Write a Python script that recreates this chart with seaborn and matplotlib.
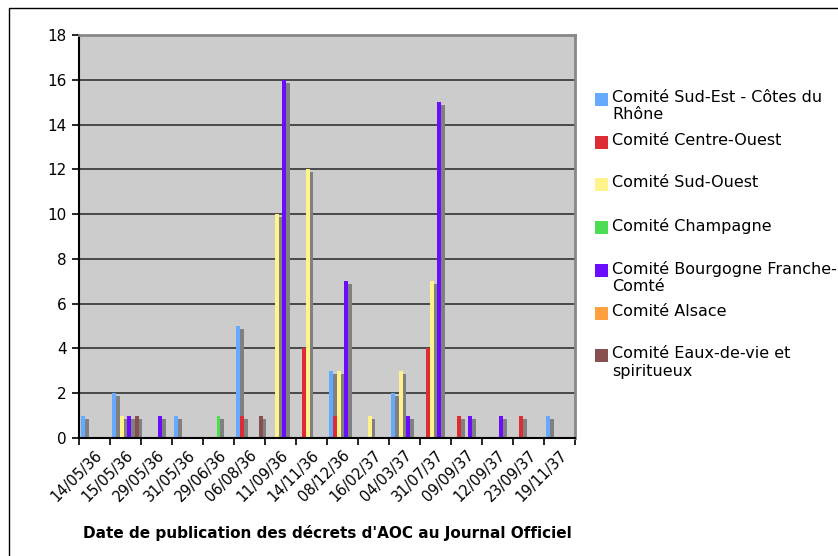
import pandas as pd
import matplotlib
matplotlib.use("Agg")
import matplotlib.pyplot as plt
import seaborn as sns
from matplotlib.patches import Rectangle
from matplotlib.ticker import FixedLocator

# dates de publication (categories de l'axe x)
dates = ["14/05/36", "15/05/36", "29/05/36", "31/05/36", "29/06/36", "06/08/36",
         "11/09/36", "14/11/36", "08/12/36", "16/02/37", "04/03/37", "31/07/37",
         "09/09/37", "12/09/37", "23/09/37", "19/11/37"]

comites = ["Comité Sud-Est - Côtes du Rhône", "Comité Centre-Ouest", "Comité Sud-Ouest",
           "Comité Champagne", "Comité Bourgogne Franche-Comté", "Comité Alsace",
           "Comité Eaux-de-vie et spiritueux"]

# libelles de la legende (avec retour a la ligne)
legende = ["Comité Sud-Est - Côtes du\nRhône", "Comité Centre-Ouest", "Comité Sud-Ouest",
           "Comité Champagne", "Comité Bourgogne Franche-\nComté", "Comité Alsace",
           "Comité Eaux-de-vie et\nspiritueux"]

couleurs = ["#66aaff", "#dd2c34", "#fff38a", "#4ddd55", "#6a0dff", "#ffa040", "#87504f"]

# nombre de decrets par comite
sud_est      = [1, 2, 0, 1, 0, 5, 0, 0, 3, 0, 2, 0, 0, 0, 0, 1]
centre_ouest = [0, 0, 0, 0, 0, 1, 0, 4, 1, 0, 0, 4, 1, 0, 1, 0]
sud_ouest    = [0, 1, 0, 0, 0, 0, 10, 12, 3, 1, 3, 7, 0, 0, 0, 0]
champagne    = [0, 0, 0, 0, 1, 0, 0, 0, 0, 0, 0, 0, 0, 0, 0, 0]
bourgogne    = [0, 1, 1, 0, 0, 0, 16, 0, 7, 0, 1, 15, 1, 1, 0, 0]
alsace       = [0, 0, 0, 0, 0, 0, 0, 0, 0, 0, 0, 0, 0, 0, 0, 0]
eaux_de_vie  = [0, 1, 0, 0, 0, 1, 0, 0, 0, 0, 0, 0, 0, 0, 0, 0]

series = [sud_est, centre_ouest, sud_ouest, champagne, bourgogne, alsace, eaux_de_vie]

# table longue pour seaborn
lignes = []
for nom, valeurs in zip(comites, series):
    for d, v in zip(dates, valeurs):
        lignes.append({"date": d, "comite": nom, "decrets": v})
df = pd.DataFrame(lignes)

sns.set_style("white")
plt.rcParams['font.family'] = ['DejaVu Sans']
plt.rcParams['text.color'] = 'black'
plt.rcParams['axes.labelcolor'] = 'black'
plt.rcParams['xtick.color'] = 'black'
plt.rcParams['ytick.color'] = 'black'

fig = plt.figure(figsize=(8.38, 5.56), dpi=100)
ax = fig.add_axes([79 / 838, 1 - 438 / 556, 496 / 838, 403 / 556])

sns.barplot(data=df, x="date", y="decrets", hue="comite", hue_order=comites,
            order=dates, palette=couleurs, saturation=1, width=0.85, gap=0,
            errorbar=None, legend=False, ax=ax, zorder=2, linewidth=0, edgecolor="none")

# ombres grises des barres (style Excel)
barres = [p for p in ax.patches]
for p in barres:
    h = p.get_height()
    if h > 0:
        ax.add_patch(Rectangle((p.get_x() + p.get_width(), 0), p.get_width(), h - 0.13,
                               facecolor="#808080", edgecolor="none", zorder=1.5))

ax.set_facecolor("#cccccc")
ax.set_ylim(0, 18)
ax.set_xlim(-0.5, len(dates) - 0.5)
ax.set_yticks(range(0, 19, 2))
ax.yaxis.grid(True, color="#333333", linewidth=1.2, zorder=0.5)
ax.set_axisbelow(True)

ax.tick_params(axis="y", length=5, width=1.2, direction="out", labelsize=11, pad=4, left=True)
ax.tick_params(axis="x", which="major", length=0, labelsize=10.5, pad=7)
ax.xaxis.set_minor_locator(FixedLocator([i - 0.5 for i in range(len(dates) + 1)]))
ax.tick_params(axis="x", which="minor", length=5, width=1.2, direction="out", bottom=True)
plt.setp(ax.get_xticklabels(), rotation=45, ha="right", va="top", rotation_mode="anchor")

for s in ["left", "bottom"]:
    ax.spines[s].set_color("black")
    ax.spines[s].set_linewidth(1.5)
for s in ["top", "right"]:
    ax.spines[s].set_color("#888888")
    ax.spines[s].set_linewidth(2)

ax.set_ylabel("")
ax.set_xlabel("Date de publication des décrets d'AOC au Journal Officiel",
              fontsize=11, fontweight="bold")
ax.xaxis.set_label_coords(0.5, -0.215)

# legende
for i, (lab, c) in enumerate(zip(legende, couleurs)):
    yc = 99.5 + i * 42.7
    fig.patches.append(Rectangle((595 / 838, 1 - (yc + 6.5) / 556), 13 / 838, 13 / 556,
                                 facecolor=c, edgecolor="none", transform=fig.transFigure))
    fig.text(612 / 838, 1 - (yc - 9.5) / 556, lab, fontsize=11.5, va="top",
             ha="left", linespacing=1.2)

# cadre exterieur
fig.patches.append(Rectangle((9 / 838, -0.1), 1.2, 1.1 - 8 / 556, fill=False,
                             edgecolor="black", linewidth=1, transform=fig.transFigure))

fig.savefig("out.png", dpi=100)
